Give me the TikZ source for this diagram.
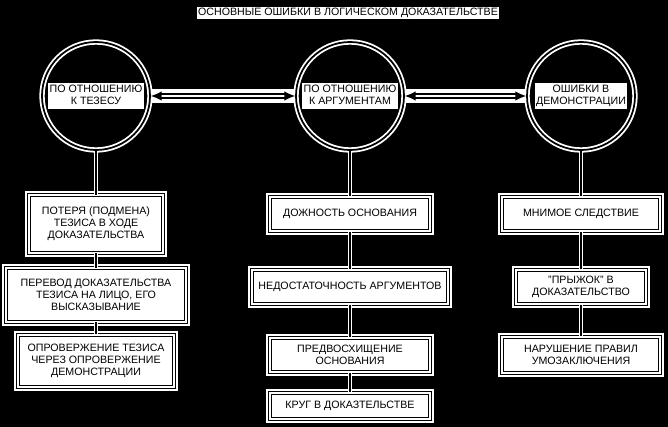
\documentclass[tikz,border=0pt]{standalone}
\usepackage{fontspec}
\setmainfont{Liberation Sans}
\usetikzlibrary{arrows.meta}
\setlength{\fboxsep}{1pt}
\newcommand{\halo}[1]{\colorbox{white}{\begin{tabular}{@{}c@{}}#1\end{tabular}}}
\tikzset{
  every node/.style={font=\fontsize{8}{9}\selectfont},
  ring/.style={circle, minimum size=81pt, inner sep=0pt, draw=black, line width=1.3pt,
    preaction={draw=white, line width=4pt}},
  errbox/.style={rectangle, align=center, inner sep=2pt, fill=white, draw=black,
    line width=0.9pt, double=white, double distance=1.3pt,
    preaction={draw=white, line width=6pt}},
  link/.style={draw=white, double=black, line width=1pt, double distance=1.2pt},
  twoway/.style={draw=black, line width=0.9pt, double=white, double distance=2pt,
    {Latex[length=8pt,width=7pt]}-{Latex[length=8pt,width=7pt]},
    preaction={draw=white, line width=11pt, arrows=-}},
}
\begin{document}
\begin{tikzpicture}[x=0.75pt, y=-0.75pt]
    % Background
    \fill[black] (0,0) rectangle (668,427);
    \useasboundingbox (0,0) rectangle (668,427);

    % Title
    \node[fill=white, inner sep=1pt] (title) at (348,13) {ОСНОВНЫЕ ОШИБКИ В ЛОГИЧЕСКОМ ДОКАЗАТЕЛЬСТВЕ};

    % Three groups of errors
    \node[ring] (thesis) at (96,96) {\halo{ПО ОТНОШЕНИЮ\\К ТЕЗЕСУ}};
    \node[ring] (args) at (350,96) {\halo{ПО ОТНОШЕНИЮ\\К АРГУМЕНТАМ}};
    \node[ring] (demo) at (581,96) {\halo{ОШИБКИ В\\ДЕМОНСТРАЦИИ}};

    \draw[twoway] (thesis) -- (args);
    \draw[twoway] (args) -- (demo);

    % Errors in relation to the thesis
    \node[errbox, minimum width=101pt, minimum height=43pt] (t1) at (96,224) {ПОТЕРЯ (ПОДМЕНА)\\ТЕЗИСА В ХОДЕ\\ДОКАЗАТЕЛЬСТВА};
    \node[errbox, minimum width=135pt, minimum height=40pt] (t2) at (96,295) {ПЕРЕВОД ДОКАЗАТЕЛЬСТВА\\ТЕЗИСА НА ЛИЦО, ЕГО\\ВЫСКАЗЫВАНИЕ};
    \node[errbox, minimum width=117pt, minimum height=39pt] (t3) at (96,361) {ОПРОВЕРЖЕНИЕ ТЕЗИСА\\ЧЕРЕЗ ОПРОВЕРЖЕНИЕ\\ДЕМОНСТРАЦИИ};

    % Errors in relation to the arguments
    \node[errbox, minimum width=120pt, minimum height=26pt] (a1) at (350,214) {ДОЖНОСТЬ ОСНОВАНИЯ};
    \node[errbox, minimum width=147pt, minimum height=26pt] (a2) at (350,287) {НЕДОСТАТОЧНОСТЬ АРГУМЕНТОВ};
    \node[errbox, minimum width=120pt, minimum height=26pt] (a3) at (350,355) {ПРЕДВОСХИЩЕНИЕ\\ОСНОВАНИЯ};
    \node[errbox, minimum width=120pt, minimum height=20pt] (a4) at (350,406) {КРУГ В ДОКАЗТЕЛЬСТВЕ};

    % Errors in the demonstration
    \node[errbox, minimum width=118pt, minimum height=26pt] (d1) at (581,214) {МНИМОЕ СЛЕДСТВИЕ};
    \node[errbox, minimum width=98pt, minimum height=26pt] (d2) at (581,287) {"ПРЫЖОК" В\\ДОКАЗАТЕЛЬСТВО};
    \node[errbox, minimum width=118pt, minimum height=27pt] (d3) at (581,355) {НАРУШЕНИЕ ПРАВИЛ\\УМОЗАКЛЮЧЕНИЯ};

    % Vertical links
    \foreach \a/\b in {thesis/t1, t1/t2, t2/t3, args/a1, a1/a2, a2/a3, a3/a4, demo/d1, d1/d2, d2/d3}
        \draw[link] (\a) -- (\b);

\end{tikzpicture}
\end{document}
